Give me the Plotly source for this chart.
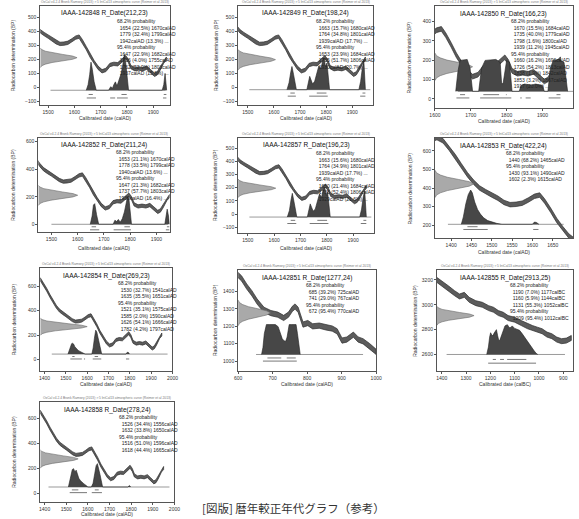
import plotly.graph_objects as go

# calibration curve (AD part)
curve_ad_years = [1350, 1365, 1380, 1395, 1410, 1425, 1440, 1455, 1470, 1485, 1500, 1515, 1530, 1545,
                  1560, 1575, 1590, 1605, 1618, 1630, 1645, 1660, 1675, 1690, 1705, 1720, 1735, 1750,
                  1765, 1780, 1795, 1805, 1815, 1830, 1845, 1860, 1875, 1890, 1905, 1915, 1925, 1940, 1950]
curve_ad_bp = [660, 672, 655, 615, 570, 520, 472, 432, 400, 380, 362, 345, 322, 310,
               312, 318, 335, 355, 362, 330, 280, 225, 180, 140, 115, 125, 160, 168,
               165, 190, 215, 190, 145, 130, 135, 130, 140, 115, 90, 100, 130, 185, 205]
# early medieval part (panel 8)
curve_ce_years = [600, 610, 625, 640, 655, 675, 695, 715, 732, 746, 757, 765, 774, 788,
                  802, 816, 835, 854, 873, 887, 901, 915, 934, 948, 962, 981, 1000]
curve_ce_bp = [1495, 1476, 1429, 1390, 1343, 1295, 1276, 1267, 1248, 1267, 1300, 1314, 1295, 1210,
               1219, 1200, 1204, 1194, 1187, 1171, 1118, 1124, 1152, 1124, 1114, 1086, 1053]
# BC part (panel 9)
curve_bc_years = [1420, 1400, 1373, 1347, 1327, 1307, 1287, 1260, 1233, 1207, 1187, 1167, 1147,
                  1127, 1100, 1073, 1047, 1027, 1007, 987, 967, 947, 927, 907, 887, 867]
curve_bc_bp = [3200, 3173, 3133, 3093, 3067, 3080, 3040, 3013, 3000, 2973, 2960, 2933, 2920,
               2893, 2880, 2853, 2827, 2813, 2800, 2787, 2760, 2747, 2720, 2707, 2712, 2733]

sample_ids = ["IAAA-142848", "IAAA-142849", "IAAA-142850", "IAAA-142852", "IAAA-142857",
              "IAAA-142853", "IAAA-142854", "IAAA-142851", "IAAA-142855", "IAAA-142858"]
meas_mean = [212, 198, 166, 211, 196, 422, 269, 1277, 2913, 278]
meas_sd = [23, 24, 23, 24, 23, 24, 23, 24, 25, 24]
curve_used = ["ad", "ad", "ad", "ad", "ad", "ad", "ad", "ce", "bc", "ad"]
date_unit = ["calAD"] * 8 + ["calBC", "calAD"]

# bell shape of the measurement distribution (sd steps, relative width)
bell_steps = [-3, -2.5, -2, -1.5, -1, -0.5, 0, 0.5, 1, 1.5, 2, 2.5, 3]
bell_width = [0.01, 0.04, 0.14, 0.32, 0.61, 0.88, 1.0, 0.88, 0.61, 0.32, 0.14, 0.04, 0.01]

# posterior (calibrated) distributions: year, height above baseline in BP units
post_x = [
    [1645, 1652, 1658, 1663, 1668, 1675, 1683, 1730, 1738, 1745, 1750, 1756, 1762, 1770, 1778, 1784,
     1790, 1795, 1800, 1806, 1934, 1940, 1945, 1948, 1951],
    [1650, 1658, 1664, 1669, 1675, 1680, 1686, 1726, 1732, 1737, 1742, 1748, 1756, 1764, 1772, 1780,
     1786, 1792, 1798, 1803, 1808, 1813, 1925, 1932, 1938, 1944, 1950],
    [1658, 1664, 1670, 1690, 1698, 1705, 1722, 1730, 1740, 1770, 1782, 1786, 1790, 1800, 1808, 1815,
     1835, 1840, 1850, 1870, 1880, 1900, 1905, 1915, 1922, 1930, 1945, 1960, 1970],
    [1648, 1655, 1660, 1665, 1672, 1680, 1735, 1742, 1748, 1755, 1762, 1770, 1778, 1785, 1790, 1795,
     1800, 1805, 1932, 1937, 1941, 1946, 1950],
    [1650, 1658, 1664, 1669, 1675, 1680, 1686, 1726, 1732, 1737, 1742, 1748, 1756, 1764, 1772, 1780,
     1786, 1792, 1798, 1803, 1808, 1813, 1925, 1932, 1938, 1944, 1950],
    [1425, 1430, 1436, 1442, 1448, 1452, 1458, 1465, 1472, 1480, 1490, 1500, 1512, 1525,
     1600, 1605, 1610, 1616],
    [1510, 1516, 1522, 1527, 1532, 1537, 1542, 1550, 1558, 1566, 1574, 1582, 1590,
     1622, 1628, 1634, 1640, 1645, 1650, 1656, 1662, 1668, 1782, 1788, 1794, 1798],
    [668, 672, 676, 682, 690, 700, 708, 716, 722, 728, 734, 738, 742, 748, 755, 762, 768, 772, 776, 780],
    [1215, 1208, 1203, 1199, 1195, 1190, 1185, 1180, 1175, 1170, 1165, 1160, 1155, 1150, 1145, 1140,
     1135, 1130, 1125, 1120, 1115, 1110, 1100, 1090, 1080, 1070, 1060, 1050, 1040, 1030, 1020, 1012, 1005],
    [1510, 1516, 1522, 1528, 1534, 1540, 1546, 1552, 1558, 1566, 1574, 1582, 1592, 1600,
     1616, 1624, 1632, 1638, 1644, 1650, 1656, 1662, 1668, 1785, 1792, 1798],
]
post_h = [
    [0, 40, 110, 200, 150, 60, 0, 0, 25, 15, 40, 60, 30, 70, 120, 180, 255, 200, 90, 0, 0, 40, 120, 70, 0],
    [0, 50, 120, 165, 110, 50, 0, 0, 60, 95, 70, 40, 60, 110, 170, 150, 200, 225, 160, 190, 90, 0,
     0, 60, 150, 210, 0],
    [0, 100, 160, 165, 120, 0, 0, 120, 160, 165, 150, 40, 40, 160, 150, 0, 0, 30, 38, 32, 38, 30, 0,
     0, 120, 160, 165, 150, 0],
    [0, 60, 140, 150, 70, 0, 0, 30, 20, 35, 15, 40, 90, 150, 200, 190, 80, 0, 0, 50, 110, 60, 0],
    [0, 50, 130, 180, 120, 50, 0, 0, 70, 100, 75, 45, 60, 115, 175, 150, 205, 225, 165, 190, 90, 0,
     0, 60, 150, 200, 0],
    [0, 40, 110, 160, 185, 170, 120, 80, 55, 35, 20, 12, 5, 0, 0, 12, 10, 0],
    [0, 25, 65, 85, 88, 80, 60, 40, 30, 22, 14, 8, 0, 0, 50, 130, 195, 180, 140, 90, 40, 0, 0, 15, 12, 0],
    [0, 40, 120, 172, 172, 172, 172, 160, 120, 90, 78, 76, 100, 172, 172, 172, 172, 120, 40, 0],
    [0, 60, 140, 175, 160, 150, 170, 190, 200, 150, 110, 120, 150, 180, 210, 230, 235, 240, 225, 215,
     220, 230, 210, 205, 195, 170, 140, 120, 90, 60, 30, 10, 0],
    [0, 40, 100, 140, 147, 120, 135, 100, 70, 50, 35, 25, 12, 0, 0, 30, 110, 170, 187, 150, 100, 50, 0,
     0, 12, 0],
]

# 68.2% and 95.4% ranges
ranges_68 = [
    [(1654, 1670), (1779, 1799), (1940, 1950)],
    [(1663, 1680), (1764, 1801), (1939, 1950)],
    [(1670, 1684), (1735, 1779), (1798, 1800), (1939, 1950)],
    [(1653, 1670), (1778, 1799), (1940, 1950)],
    [(1663, 1680), (1764, 1801), (1939, 1950)],
    [(1440, 1465)],
    [(1530, 1541), (1635, 1651)],
    [(685, 725), (741, 767)],
    [(1190, 1177), (1160, 1144), (1131, 1052)],
    [(1526, 1556), (1632, 1650)],
]
ranges_95 = [
    [(1647, 1682), (1736, 1755), (1762, 1803), (1937, 1950)],
    [(1653, 1684), (1735, 1806), (1930, 1950)],
    [(1660, 1696), (1726, 1813), (1838, 1842), (1853, 1867), (1917, 1950)],
    [(1647, 1682), (1737, 1803), (1936, 1950)],
    [(1650, 1684), (1735, 1806), (1929, 1950)],
    [(1430, 1490), (1602, 1615)],
    [(1521, 1575), (1585, 1590), (1626, 1666), (1782, 1797)],
    [(672, 770)],
    [(1209, 1012)],
    [(1516, 1596), (1618, 1665)],
]

prob_text = [
    ["68.2% probability", "1654 (22.5%) 1670calAD", "1779 (32.4%) 1799calAD", "1942calAD (13.3%) ...",
     "95.4% probability", "1647 (22.9%) 1682calAD", "1736 (4.0%) 1755calAD", "1762 (52.9%) 1803calAD",
     "1937calAD (15.6%) ..."],
    ["68.2% probability", "1663 (15.7%) 1680calAD", "1764 (34.8%) 1801calAD", "1939calAD (17.7%) ...",
     "95.4% probability", "1653 (23.9%) 1684calAD", "1735 (51.7%) 1806calAD", "1930calAD (20.7%) ..."],
    ["68.2% probability", "1670 (15.5%) 1684calAD", "1735 (40.0%) 1779calAD", "1798 (1.6%) 1800calAD",
     "1939 (11.2%) 1945calAD", "95.4% probability", "1660 (16.2%) 1696calAD", "1726 (54.2%) 1813calAD",
     "1838 (1.9%) 1842calAD", "1853 (3.2%) 1867calAD", "1917 (20.0%) ..."],
    ["68.2% probability", "1653 (21.1%) 1670calAD", "1778 (33.5%) 1799calAD", "1940calAD (13.6%) ...",
     "95.4% probability", "1647 (21.3%) 1682calAD", "1737 (57.7%) 1803calAD", "1936calAD (16.4%) ..."],
    ["68.2% probability", "1663 (15.6%) 1680calAD", "1764 (34.9%) 1801calAD", "1939calAD (17.7%) ...",
     "95.4% probability", "1650 (21.4%) 1684calAD", "1735 (52.4%) 1806calAD", "1929calAD (21.6%) ..."],
    ["68.2% probability", "1440 (68.2%) 1465calAD", "95.4% probability", "1430 (93.1%) 1490calAD",
     "1602 (2.3%) 1615calAD"],
    ["68.2% probability", "1530 (32.7%) 1541calAD", "1635 (35.5%) 1651calAD", "95.4% probability",
     "1521 (35.1%) 1575calAD", "1585 (2.0%) 1590calAD", "1626 (54.1%) 1666calAD", "1782 (4.2%) 1797calAD"],
    ["68.2% probability", "685 (39.2%) 725calAD", "741 (29.0%) 767calAD", "95.4% probability",
     "672 (95.4%) 770calAD"],
    ["68.2% probability", "1190 (7.0%) 1177calBC", "1160 (5.9%) 1144calBC", "1131 (55.3%) 1052calBC",
     "95.4% probability", "1209 (95.4%) 1012calBC"],
    ["68.2% probability", "1526 (34.4%) 1556calAD", "1632 (33.8%) 1650calAD", "95.4% probability",
     "1516 (51.0%) 1596calAD", "1618 (44.4%) 1665calAD"],
]

# axis ranges and ticks
x_ranges = [[1470, 1962], [1463, 1980], [1600, 1985], [1450, 1950], [1463, 1980],
            [1360, 1700], [1380, 2000], [600, 1000], [1420, 860], [1380, 2000]]
y_ranges = [[-125, 580], [-125, 580], [-47, 480], [-56, 627], [-144, 577],
            [130, 670], [-93, 747], [943, 1524], [2467, 3280], [-67, 733]]
x_ticks = [[1500, 1600, 1700, 1800, 1900]] * 2 + [[1600, 1700, 1800, 1900]] + \
          [[1500, 1600, 1700, 1800, 1900]] * 2 + [[1400, 1450, 1500, 1550, 1600, 1650]] + \
          [[1400, 1500, 1600, 1700, 1800, 1900, 2000]] + [[600, 700, 800, 900, 1000]] + \
          [[1400, 1300, 1200, 1100, 1000, 900]] + [[1400, 1500, 1600, 1700, 1800, 1900, 2000]]
y_ticks = [[-100, 0, 100, 200, 300, 400, 500]] * 2 + [[0, 100, 200, 300, 400]] + \
          [[0, 200, 400, 600]] + [[-100, 0, 100, 200, 300, 400, 500]] + [[200, 300, 400, 500, 600]] + \
          [[0, 200, 400, 600]] + [[1000, 1100, 1200, 1300, 1400]] + [[2600, 2800, 3000, 3200]] + \
          [[0, 200, 400, 600]]

# baseline of posterior, row of 68% brackets, row of 95% brackets (BP units)
base_y = [-20, -16, 39, 0, -23, 204, 45, 1038, 2600, 53]
br68_y = [-50, -40, 22, -18, -48, 191, 25, 1018, 2560, 30]
br95_y = [-75, -62, 5, -40, -72, 176, 5, 1000, 2530, 8]
base_span = [(1509, 1947), (1506, 1969), (1664, 1985), (1500, 1944), (1506, 1969),
             (1392, 1677), (1434, 1977), (652, 962), (1380, 893), (1418, 1977)]
meas_w = [140, 143, 105, 150, 143, 96, 220, 94, 153, 175]

# plot boxes in pixels (left, right, top, bottom) and axis title positions
W, H = 579, 519
boxes = [(35, 167, 6, 105), (237, 375, 6, 105), (438, 579, 6, 108),
         (33, 167, 138, 232), (237, 376, 138, 233), (438, 579, 138, 238),
         (35, 170, 268, 371), (237, 378, 270, 371), (440, 579, 270, 371),
         (35, 172, 402, 502)]
ytitle_px = [8, 215, 412, 7, 213, 413, 8, 213, 417, 8]
xtitle_px = [118, 118, 121, 248, 248, 252, 384, 384, 384, 514]
text_x = [0.575, 0.56, 0.54, 0.575, 0.56, 0.5, 0.57, 0.48, 0.52, 0.57]
curves = {"ad": (curve_ad_years, curve_ad_bp, 12),
          "ce": (curve_ce_years, curve_ce_bp, 15),
          "bc": (curve_bc_years, curve_bc_bp, 20)}

FONT = "Liberation Sans, Arial, sans-serif"
fig = go.Figure()
layout = {}
for i in range(10):
    n = "" if i == 0 else str(i + 1)
    xr, yr = x_ranges[i], y_ranges[i]
    sign = 1 if xr[1] > xr[0] else -1
    kw = dict(xaxis="x" + n, yaxis="y" + n, showlegend=False, hoverinfo="skip")

    # calibration curve band
    cx, cy, s = curves[curve_used[i]]
    fig.add_trace(go.Scatter(x=cx + cx[::-1], y=[v + s for v in cy] + [v - s for v in cy[::-1]],
                             fill="toself", fillcolor="#5c5c5c", mode="lines",
                             line=dict(color="#2e2e2e", width=0.7), **kw))

    # measurement distribution on the y axis
    mx = [xr[0]] + [xr[0] + sign * meas_w[i] * w for w in bell_width] + [xr[0]]
    my = [meas_mean[i] - 3 * meas_sd[i]] + [meas_mean[i] + st * meas_sd[i] for st in bell_steps] + \
         [meas_mean[i] + 3 * meas_sd[i]]
    fig.add_trace(go.Scatter(x=mx, y=my, fill="toself", fillcolor="#a9a9a9", mode="lines",
                             line=dict(color="#6a6a6a", width=0.6), **kw))

    # baseline and posterior
    fig.add_trace(go.Scatter(x=list(base_span[i]), y=[base_y[i]] * 2, mode="lines",
                             line=dict(color="#555", width=0.6), **kw))
    fig.add_trace(go.Scatter(x=post_x[i], y=[base_y[i] + h for h in post_h[i]], fill="toself",
                             fillcolor="#474747", mode="lines", line=dict(color="#222", width=0.6), **kw))

    # range brackets
    for rngs, yy in ((ranges_68[i], br68_y[i]), (ranges_95[i], br95_y[i])):
        bx, by = [], []
        for a, b in rngs:
            bx += [a, b, None]
            by += [yy, yy, None]
        fig.add_trace(go.Scatter(x=bx, y=by, mode="lines", line=dict(color="#555", width=0.8), **kw))

    l, r, t, b = boxes[i]
    ax_common = dict(showline=True, mirror=True, linecolor="#555", linewidth=0.8, ticks="outside",
                     ticklen=2, tickwidth=0.6, tickcolor="#555", showgrid=False, zeroline=False,
                     tickfont=dict(size=5, color="#333", family=FONT))
    layout["xaxis" + n] = dict(ax_common, domain=[l / W, r / W], range=xr, anchor="y" + n,
                               tickvals=x_ticks[i])
    layout["yaxis" + n] = dict(ax_common, domain=[1 - b / H, 1 - t / H], range=yr, anchor="x" + n,
                               tickvals=y_ticks[i])

    # axis titles
    fig.add_annotation(xref="paper", yref="paper", x=((l + r) / 2) / W, y=1 - xtitle_px[i] / H,
                       xanchor="center", yanchor="middle", showarrow=False,
                       text="Calibrated date (%s)" % date_unit[i],
                       font=dict(size=5, color="#333", family=FONT))
    fig.add_annotation(xref="paper", yref="paper", x=ytitle_px[i] / W, y=1 - ((t + b) / 2) / H,
                       xanchor="center", yanchor="middle", showarrow=False, textangle=-90,
                       text="Radiocarbon determination (BP)",
                       font=dict(size=5, color="#333", family=FONT))

    xd, yd = "x%s domain" % n, "y%s domain" % n
    fig.add_annotation(xref=xd, yref=yd, x=0.5, y=0.985, xanchor="center", yanchor="top",
                       text="%s R_Date(%d,%d)" % (sample_ids[i], meas_mean[i], meas_sd[i]),
                       showarrow=False, font=dict(size=6.5, color="#111", family=FONT))
    fig.add_annotation(xref=xd, yref=yd, x=0.5, y=1.0, xanchor="center", yanchor="bottom",
                       text="OxCal v4.2.4 Bronk Ramsey (2013); r:5 IntCal13 atmospheric curve (Reimer et al 2013)",
                       showarrow=False, font=dict(size=3.3, color="#777", family=FONT))
    lines = [ln if "probability" in ln else "\u00a0\u00a0" + ln for ln in prob_text[i]]
    fig.add_annotation(xref=xd, yref=yd, x=text_x[i], y=0.9, xanchor="left", yanchor="top",
                       align="left", text="<br>".join(lines), showarrow=False,
                       font=dict(size=5, color="#222", family=FONT))

fig.add_annotation(xref="paper", yref="paper", x=198 / W, y=1 - 508 / H, xanchor="left", yanchor="middle",
                   text="[図版] 暦年較正年代グラフ（参考）", showarrow=False,
                   font=dict(size=11.5, color="#333", family="Noto Sans CJK JP"))

fig.update_layout(width=W, height=H, margin=dict(l=0, r=0, t=0, b=0),
                  paper_bgcolor="white", plot_bgcolor="white", **layout)
# the page body has a default 8px margin; drop it so the figure sits at the window corner
fig.write_html("out.html", config={"displayModeBar": False},
               post_script="document.body.style.margin='0';")
